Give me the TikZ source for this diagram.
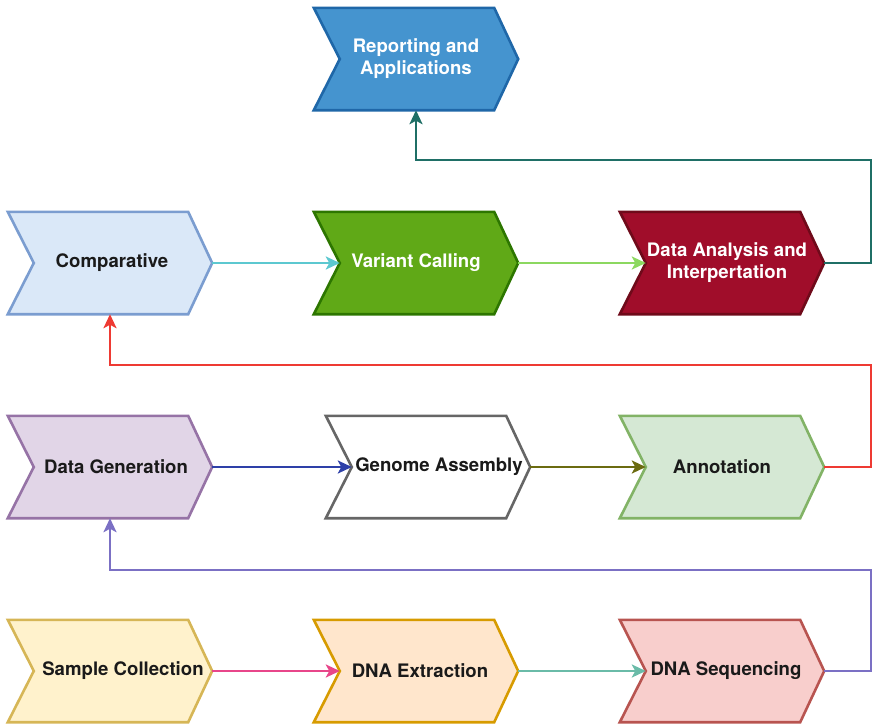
\documentclass[tikz,border=0pt]{standalone}
\usepackage{fontspec}
\setmainfont{TeX Gyre Heros}
\usetikzlibrary{arrows.meta}
\pgfdeclarelayer{background}
\pgfsetlayers{background,main}

% box colours
\definecolor{repFill}{HTML}{4594CF}
\definecolor{repLine}{HTML}{1F67A8}
\definecolor{cmpFill}{HTML}{DAE8F8}
\definecolor{cmpLine}{HTML}{7B9DD0}
\definecolor{varFill}{HTML}{60A917}
\definecolor{varLine}{HTML}{2D7600}
\definecolor{daFill}{HTML}{A00D2A}
\definecolor{daLine}{HTML}{6F0A1A}
\definecolor{genFill}{HTML}{E1D5E7}
\definecolor{genLine}{HTML}{9673A6}
\definecolor{asmFill}{HTML}{FFFFFF}
\definecolor{asmLine}{HTML}{666666}
\definecolor{annFill}{HTML}{D5E8D4}
\definecolor{annLine}{HTML}{82B366}
\definecolor{scFill}{HTML}{FFF2CC}
\definecolor{scLine}{HTML}{D6B656}
\definecolor{exFill}{HTML}{FFE6CC}
\definecolor{exLine}{HTML}{D79B00}
\definecolor{seqFill}{HTML}{F8CECC}
\definecolor{seqLine}{HTML}{B85450}
\definecolor{inkText}{HTML}{1A1A1A}

% connector colours
\definecolor{cTeal}{HTML}{1F6F66}
\definecolor{cRed}{HTML}{EE3A33}
\definecolor{cPurple}{HTML}{7B70C4}
\definecolor{cCyan}{HTML}{5CC8D0}
\definecolor{cLime}{HTML}{8CD860}
\definecolor{cNavy}{HTML}{2E40A8}
\definecolor{cOlive}{HTML}{6B6B10}
\definecolor{cPink}{HTML}{E8468A}
\definecolor{cSea}{HTML}{6ABBA8}

\tikzset{
  stagebox/.style={rectangle, minimum width=204pt, minimum height=102pt,
    inner sep=0pt, align=center, text=inkText,
    font=\fontsize{18.6}{22}\selectfont\bfseries},
  whitetext/.style={text=white},
  link/.style={line width=2.8pt, -{Stealth[length=14pt,width=13pt,inset=3.5pt]}},
}

% chevron outline behind a stage node: notch on the left, point on the right
\newcommand{\chevron}[3]{%
  \begin{pgfonlayer}{background}
    \filldraw[fill=#2, draw=#3, line width=2.6pt, line join=miter]
      (#1.north west) -- ([xshift=-24pt]#1.north east) -- (#1.east)
      -- ([xshift=-24pt]#1.south east) -- (#1.south west)
      -- ([xshift=26pt]#1.west) -- cycle;
  \end{pgfonlayer}}

\begin{document}
\begin{tikzpicture}[x=1pt, y=-1pt]
  \useasboundingbox (0,0) rectangle (873,724);

  % stages
  \node[stagebox, whitetext] (rep) at (416,59) {Reporting and\\Applications};
  \node[stagebox] (cmp) at (110,263) {\hspace*{4pt}Comparative};
  \node[stagebox, whitetext] (var) at (416,263) {Variant Calling};
  \node[stagebox, whitetext] (da) at (722,263) {\hspace*{10pt}Data Analysis and\\\hspace*{10pt}Interpertation};
  \node[stagebox] (gen) at (110,467) {\hspace*{12pt}Data Generation};
  \node[stagebox] (asm) at (428,467) {\hspace*{22pt}Genome Assembly};
  \node[stagebox] (ann) at (722,467) {Annotation};
  \node[stagebox] (sc) at (110,671) {\hspace*{26pt}Sample Collection};
  \node[stagebox] (ex) at (416,671) {\hspace*{8pt}DNA Extraction};
  \node[stagebox] (seq) at (722,671) {\hspace*{8pt}DNA Sequencing};

  \chevron{rep}{repFill}{repLine}
  \chevron{cmp}{cmpFill}{cmpLine}
  \chevron{var}{varFill}{varLine}
  \chevron{da}{daFill}{daLine}
  \chevron{gen}{genFill}{genLine}
  \chevron{asm}{asmFill}{asmLine}
  \chevron{ann}{annFill}{annLine}
  \chevron{sc}{scFill}{scLine}
  \chevron{ex}{exFill}{exLine}
  \chevron{seq}{seqFill}{seqLine}

  % bends of the return lines along the right edge
  \coordinate (turnA) at (871,160);
  \coordinate (turnB) at (871,365);
  \coordinate (turnC) at (871,570);

  % connectors within each row
  \draw[link, cCyan]  (cmp.east) -- ([xshift=26pt]var.west);
  \draw[link, cLime]  (var.east) -- ([xshift=26pt]da.west);
  \draw[link, cNavy]  (gen.east) -- ([xshift=26pt]asm.west);
  \draw[link, cOlive] (asm.east) -- ([xshift=26pt]ann.west);
  \draw[link, cPink]  (sc.east)  -- ([xshift=26pt]ex.west);
  \draw[link, cSea]   (ex.east)  -- ([xshift=26pt]seq.west);

  % connectors back to the start of the next row
  \draw[link, cTeal]   (da.east)  -| (turnA) -| (rep.south);
  \draw[link, cRed]    (ann.east) -| (turnB) -| (cmp.south);
  \draw[link, cPurple] (seq.east) -| (turnC) -| (gen.south);
\end{tikzpicture}
\end{document}
